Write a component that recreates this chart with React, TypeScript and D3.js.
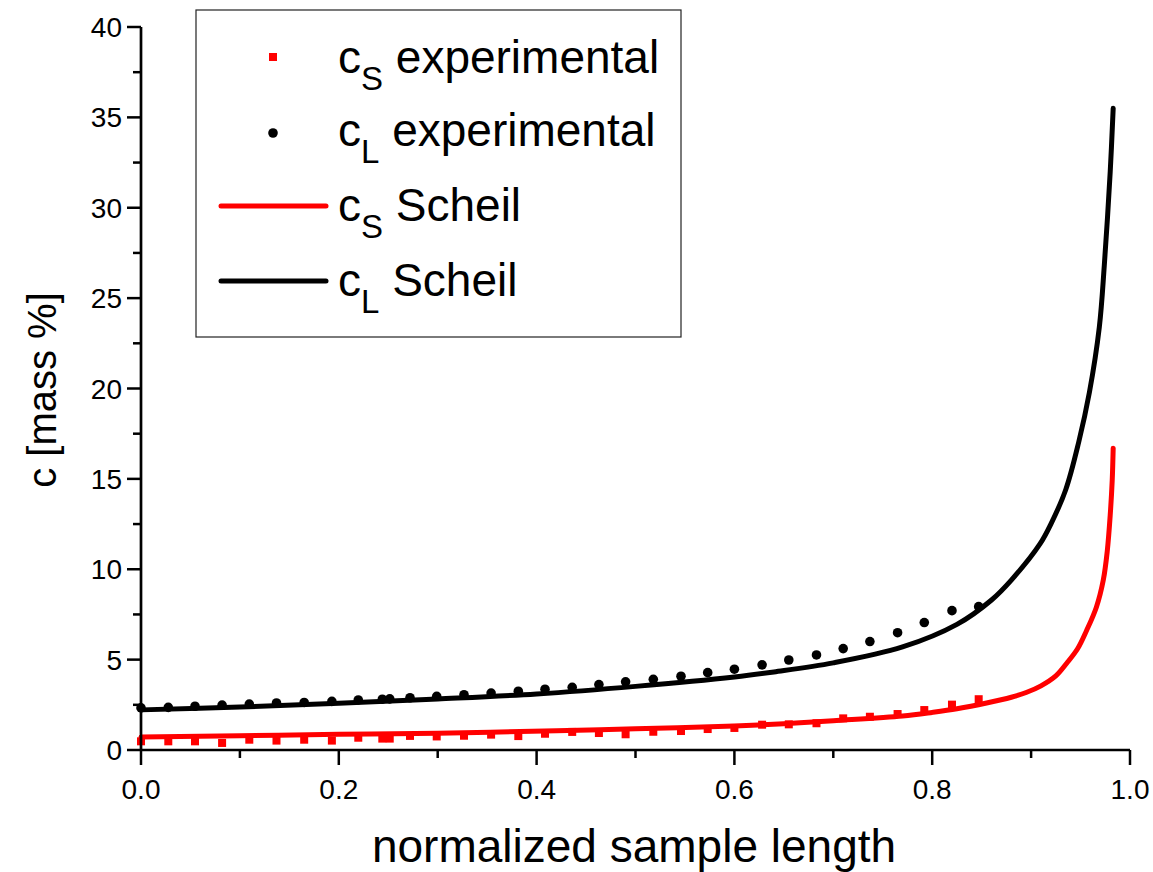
import React from 'react';
import * as d3 from 'd3';

// ---- data ----
const xTicks = [0, 0.2, 0.4, 0.6, 0.8, 1.0];
const xMinorTicks = [0.1, 0.3, 0.5, 0.7, 0.9];
const yTicks = [0, 5, 10, 15, 20, 25, 30, 35, 40];
const yMinorTicks = [2.5, 7.5, 12.5, 17.5, 22.5, 27.5, 32.5, 37.5];

const expX = [0, 0.0276, 0.0546, 0.082, 0.1095, 0.137, 0.165, 0.193, 0.2197, 0.244, 0.2515, 0.272, 0.299,
  0.3266, 0.354, 0.3815, 0.4085, 0.436, 0.463, 0.49, 0.518, 0.546, 0.573, 0.6, 0.628, 0.655, 0.683,
  0.71, 0.737, 0.765, 0.792, 0.82, 0.847];
const csExp = [0.48, 0.48, 0.48, 0.39, 0.57, 0.52, 0.57, 0.52, 0.68, 0.63, 0.63, 0.78, 0.75,
  0.79, 0.85, 0.77, 0.9, 1.0, 0.94, 0.87, 1.01, 1.05, 1.16, 1.22, 1.4, 1.42, 1.48,
  1.75, 1.84, 1.99, 2.21, 2.51, 2.81];
const clExp = [2.33, 2.36, 2.42, 2.48, 2.54, 2.6, 2.63, 2.69, 2.77, 2.81, 2.83, 2.89, 2.97,
  3.06, 3.15, 3.25, 3.36, 3.47, 3.62, 3.77, 3.91, 4.08, 4.28, 4.47, 4.71, 4.98, 5.26,
  5.61, 6.0, 6.49, 7.05, 7.71, 7.93];

const csScheilX = [0, 0.1, 0.2, 0.3, 0.42, 0.5, 0.6, 0.65, 0.7, 0.77, 0.8, 0.825, 0.855, 0.88, 0.895,
  0.91, 0.925, 0.936, 0.947, 0.956, 0.966, 0.973, 0.977, 0.98, 0.982, 0.983];
const csScheil = [0.72, 0.79, 0.87, 0.93, 1.07, 1.17, 1.33, 1.45, 1.62, 1.88, 2.08, 2.28, 2.6, 2.92, 3.18,
  3.55, 4.1, 4.8, 5.6, 6.6, 7.9, 9.4, 11.0, 13.0, 14.9, 16.7];

const clScheilX = [0, 0.1, 0.2, 0.3, 0.4, 0.5, 0.6, 0.64, 0.7, 0.77, 0.825, 0.86, 0.88, 0.909, 0.92,
  0.935, 0.948, 0.959, 0.969, 0.974, 0.98, 0.983];
const clScheil = [2.22, 2.38, 2.58, 2.82, 3.1, 3.52, 4.04, 4.32, 4.82, 5.7, 6.95, 8.3, 9.4, 11.4, 12.5,
  14.4, 17.0, 19.8, 23.4, 26.8, 32.0, 35.5];

const legendItems = [
  { sub: 'S', label: 'experimental', kind: 'square', color: '#ff0000' },
  { sub: 'L', label: 'experimental', kind: 'dot', color: '#000000' },
  { sub: 'S', label: 'Scheil', kind: 'line', color: '#ff0000' },
  { sub: 'L', label: 'Scheil', kind: 'line', color: '#000000' },
];

const W = 1153;
const H = 872;
const FONT = '"Liberation Sans", Arial, Helvetica, sans-serif';

export default function App() {
  const x = d3.scaleLinear().domain([0, 1]).range([141, 1130]);
  const y = d3.scaleLinear().domain([0, 40]).range([750, 27]);

  const line = d3
    .line<[number, number]>()
    .x((d) => x(d[0]))
    .y((d) => y(d[1]))
    .curve(d3.curveCatmullRom.alpha(0.5));

  const csPath = line(csScheilX.map((v, i) => [v, csScheil[i]] as [number, number])) || '';
  const clPath = line(clScheilX.map((v, i) => [v, clScheil[i]] as [number, number])) || '';

  const sq = 8;

  return (
    <svg
      width={W}
      height={H}
      viewBox={`0 0 ${W} ${H}`}
      style={{ position: 'absolute', left: 0, top: 0, background: '#fff' }}
      fontFamily={FONT}
    >
      <rect x={0} y={0} width={W} height={H} fill="#fff" />

      {/* experimental markers */}
      {expX.map((v, i) => (
        <rect
          key={'s' + i}
          x={x(v) - sq / 2}
          y={y(csExp[i]) - sq / 2}
          width={sq}
          height={sq}
          fill="#ff0000"
        />
      ))}
      {expX.map((v, i) => (
        <circle key={'c' + i} cx={x(v)} cy={y(clExp[i])} r={4.8} fill="#000" />
      ))}

      {/* Scheil lines */}
      <path d={csPath} fill="none" stroke="#ff0000" strokeWidth={5} strokeLinecap="round" strokeLinejoin="round" />
      <path d={clPath} fill="none" stroke="#000" strokeWidth={5} strokeLinecap="round" strokeLinejoin="round" />

      {/* axes */}
      <line x1={x(0)} x2={x(1)} y1={y(0)} y2={y(0)} stroke="#000" strokeWidth={2.7} />
      <line x1={x(0)} x2={x(0)} y1={y(0)} y2={y(40)} stroke="#000" strokeWidth={2.7} />

      {xTicks.map((t) => (
        <g key={'xt' + t}>
          <line x1={x(t)} x2={x(t)} y1={y(0)} y2={y(0) + 15} stroke="#000" strokeWidth={2.5} />
          <text x={x(t)} y={799} textAnchor="middle" fontSize={28} fill="#000">
            {t.toFixed(1)}
          </text>
        </g>
      ))}
      {xMinorTicks.map((t) => (
        <line key={'xm' + t} x1={x(t)} x2={x(t)} y1={y(0)} y2={y(0) + 8} stroke="#000" strokeWidth={2.5} />
      ))}

      {yTicks.map((t) => (
        <g key={'yt' + t}>
          <line x1={x(0) - 14} x2={x(0)} y1={y(t)} y2={y(t)} stroke="#000" strokeWidth={2.5} />
          <text x={x(0) - 19} y={y(t)} dy="0.36em" textAnchor="end" fontSize={28} fill="#000">
            {t}
          </text>
        </g>
      ))}
      {yMinorTicks.map((t) => (
        <line key={'ym' + t} x1={x(0) - 8} x2={x(0)} y1={y(t)} y2={y(t)} stroke="#000" strokeWidth={2.5} />
      ))}

      {/* axis titles */}
      <text x={634} y={862} textAnchor="middle" fontSize={46} fill="#000">
        normalized sample length
      </text>
      <text
        transform={`translate(56, 390) rotate(-90)`}
        textAnchor="middle"
        fontSize={40}
        fill="#000"
      >
        c [mass %]
      </text>

      {/* legend */}
      <rect x={196} y={10} width={485} height={327} fill="#fff" stroke="#222" strokeWidth={1.2} />
      {legendItems.map((it, i) => {
        const rowY = [57, 133, 206, 281][i];
        const baseY = [73, 146, 221, 296][i];
        return (
          <g key={'lg' + i}>
            {it.kind === 'square' && (
              <rect x={273 - sq / 2} y={rowY - sq / 2} width={sq} height={sq} fill={it.color} />
            )}
            {it.kind === 'dot' && <circle cx={273} cy={rowY} r={4.8} fill={it.color} />}
            {it.kind === 'line' && (
              <line x1={221} x2={326} y1={rowY} y2={rowY} stroke={it.color} strokeWidth={5} strokeLinecap="round" />
            )}
            <text x={338} y={baseY} fontSize={46} fill="#000">
              c
              <tspan dy={17} fontSize={33}>
                {it.sub}
              </tspan>
              <tspan dy={-17} fontSize={46}>
                {' ' + it.label}
              </tspan>
            </text>
          </g>
        );
      })}
    </svg>
  );
}
